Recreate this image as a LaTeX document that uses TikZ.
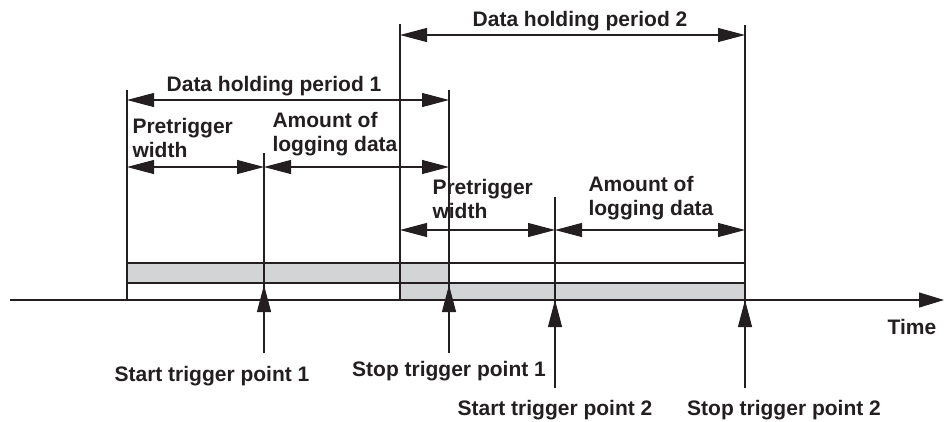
\documentclass[tikz,border=0pt]{standalone}
\usepackage{fontspec}
\setmainfont{Liberation Sans}
\usetikzlibrary{arrows.meta}

\definecolor{ink}{RGB}{35,31,32}
\definecolor{bargray}{RGB}{211,212,214}

\begin{document}
\begin{tikzpicture}[x=1pt,y=-1pt,color=ink,line width=1.1pt,
  >={Triangle[length=27pt,width=14pt]},
  lbl/.style={font=\fontsize{21}{24}\selectfont\bfseries,inner sep=0pt},
  multi/.style={lbl,align=left,anchor=north west},
  dim/.style={<->},
  trig/.style={->}]

  \useasboundingbox (0,0) rectangle (944,421);

  % period and trigger positions
  \coordinate (hp1) at (127,300);
  \coordinate (st1) at (264,300);
  \coordinate (hp2) at (400,300);
  \coordinate (sp1) at (449,300);
  \coordinate (st2) at (555,300);
  \coordinate (sp2) at (745,300);

  % data bars
  \filldraw[fill=bargray] (hp1 |- 0,263) rectangle (sp1 |- 0,283);
  \draw (hp1 |- 0,283) rectangle (hp2);
  \filldraw[fill=bargray] (hp2 |- 0,283) rectangle (sp2);
  \draw (sp1 |- 0,263) rectangle (sp2 |- 0,283);

  % time axis
  \coordinate (t0) at (10,300);
  \coordinate (t1) at (944,300);
  \draw[->,>={Triangle[length=25pt,width=15pt]}] (t0) -- (t1);
  \node[lbl] (time) at (912,327) {Time};

  % extension lines
  \draw (hp1 |- 0,90) -- (hp1);
  \draw (st1 |- 0,153) -- (st1 |- 0,353);
  \draw (hp2 |- 0,24) -- (hp2);
  \draw (sp1 |- 0,90) -- (sp1 |- 0,353);
  \draw (st2 |- 0,197) -- (st2 |- 0,388);
  \draw (sp2 |- 0,25) -- (sp2 |- 0,388);

  % trigger points
  \draw[trig] (st1 |- 0,353) -- (st1 |- 0,285);
  \draw[trig] (sp1 |- 0,353) -- (sp1 |- 0,285);
  \draw[trig] (st2 |- 0,388) -- (st2);
  \draw[trig] (sp2 |- 0,388) -- (sp2);

  % widths
  \draw[dim] (hp2 |- 0,35) -- (sp2 |- 0,35);
  \draw[dim] (hp1 |- 0,100) -- (sp1 |- 0,100);
  \draw[dim] (hp1 |- 0,167) -- (st1 |- 0,167);
  \draw[dim] (st1 |- 0,167) -- (sp1 |- 0,167);
  \draw[dim] (hp2 |- 0,230) -- (st2 |- 0,230);
  \draw[dim] (st2 |- 0,230) -- (sp2 |- 0,230);

  \node[lbl,anchor=base] (hold2) at (580,26) {Data holding period 2};
  \node[lbl,anchor=base] (hold1) at (274,91) {Data holding period 1};
  \node[multi] (pre1) at (132,118) {Pretrigger\\width};
  \node[multi] (log1) at (272,112) {Amount of\\logging data};
  \node[multi] (pre2) at (432,179) {Pretrigger\\width};
  \node[multi] (log2) at (588,176) {Amount of\\logging data};

  \node[lbl,anchor=base] (start1) at (212,381) {Start trigger point 1};
  \node[lbl,anchor=base] (stop1) at (449,376) {Stop trigger point 1};
  \node[lbl,anchor=base] (start2) at (555,415) {Start trigger point 2};
  \node[lbl,anchor=base] (stop2) at (784,415) {Stop trigger point 2};
\end{tikzpicture}
\end{document}
